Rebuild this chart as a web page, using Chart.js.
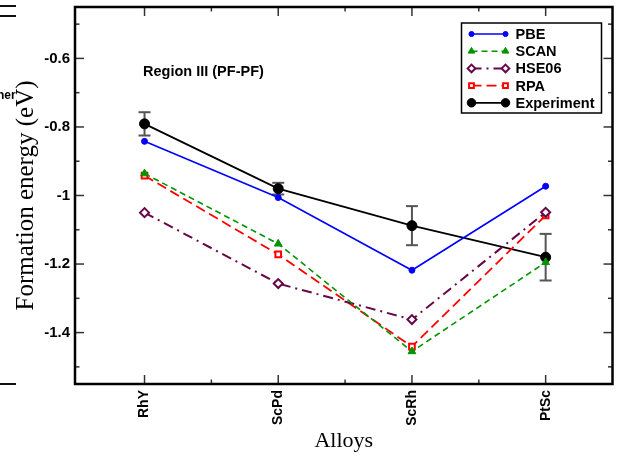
<!DOCTYPE html>
<html>
<head>
<meta charset="utf-8">
<script src="https://cdn.jsdelivr.net/npm/chart.js@4/dist/chart.umd.min.js"></script>
<style>
    html, body { margin: 0; padding: 0; background: #fff; }
    #wrap { width: 619px; height: 456px; }
</style>
</head>
<body>
<div id="wrap"><canvas id="chart" width="619" height="456"></canvas></div>
<script>
const alloys = ['RhY', 'ScPd', 'ScRh', 'PtSc'];
const pbe = [-0.842, -1.006, -1.218, -0.973];
const scan = [-0.936, -1.141, -1.455, -1.195];
const hse06 = [-1.05, -1.257, -1.362, -1.049];
const rpa = [-0.942, -1.172, -1.441, -1.058];
const experiment = [-0.791, -0.980, -1.088, -1.180];
const experimentErr = [0.034, 0.017, 0.057, 0.068];
const yMajorTicks = [-1.4, -1.2, -1.0, -0.8, -0.6];
const yMinorTicks = [-1.5, -1.3, -1.1, -0.9, -0.7, -0.5];
const xMinorTicks = [0.5, 1.5, 2.5];

const SANS = '"Liberation Sans", Arial, Helvetica, sans-serif';
const SERIF = '"Liberation Serif", "Times New Roman", serif';

const toPoints = arr => arr.map((v, i) => ({ x: i, y: v }));

const datasets = [
    { label: 'PBE', data: toPoints(pbe), borderColor: '#0000ff', backgroundColor: '#0000ff',
      borderWidth: 1.6, pointStyle: 'circle', pointRadius: 3, pointBorderWidth: 1 },
    { label: 'SCAN', data: toPoints(scan), borderColor: '#009400', backgroundColor: '#009400',
      borderWidth: 1.6, borderDash: [6, 4], pointStyle: 'triangle', pointRadius: 4.5, pointBorderWidth: 1 },
    { label: 'HSE06', data: toPoints(hse06), borderColor: '#670748', backgroundColor: '#ffffff',
      borderWidth: 2, borderDash: [10, 5, 2, 5], pointStyle: 'rectRot', pointRadius: 4.5, pointBorderWidth: 2 },
    { label: 'RPA', data: toPoints(rpa), borderColor: '#ff0000', backgroundColor: '#ffffff',
      borderWidth: 1.8, borderDash: [10, 5], pointStyle: 'rect', pointRadius: 4, pointBorderWidth: 2 },
    { label: 'Experiment', data: toPoints(experiment), borderColor: '#000000', backgroundColor: '#000000',
      borderWidth: 1.8, pointStyle: 'circle', pointRadius: 5, pointBorderWidth: 1 }
];
datasets.forEach(d => {
    d.pointBackgroundColor = d.backgroundColor;
    d.pointBorderColor = d.borderColor;
    d.tension = 0;
    d.fill = false;
});

function line(ctx, x1, y1, x2, y2) {
    ctx.beginPath();
    ctx.moveTo(x1, y1);
    ctx.lineTo(x2, y2);
    ctx.stroke();
}

const decorPlugin = {
    id: 'decor',
    beforeDatasetsDraw(chart) {
        // error bars of the experimental points
        const ctx = chart.ctx;
        const xs = chart.scales.x, ys = chart.scales.y;
        ctx.save();
        ctx.strokeStyle = '#555';
        ctx.lineWidth = 2;
        experiment.forEach((v, i) => {
            const px = xs.getPixelForValue(i);
            const hi = ys.getPixelForValue(v + experimentErr[i]);
            const lo = ys.getPixelForValue(v - experimentErr[i]);
            line(ctx, px, hi, px, lo);
            line(ctx, px - 6, hi, px + 6, hi);
            line(ctx, px - 6, lo, px + 6, lo);
        });
        ctx.restore();
    },
    afterDraw(chart) {
        const ctx = chart.ctx;
        const { left, right, top, bottom } = chart.chartArea;
        const xs = chart.scales.x, ys = chart.scales.y;
        ctx.save();

        // tick marks on all four sides
        ctx.strokeStyle = '#333';
        ctx.lineWidth = 1.5;
        alloys.forEach((_, i) => {
            const px = xs.getPixelForValue(i);
            line(ctx, px, bottom, px, bottom - 9);
            line(ctx, px, top, px, top + 9);
        });
        xMinorTicks.forEach(v => {
            const px = xs.getPixelForValue(v);
            line(ctx, px, bottom, px, bottom - 4.5);
            line(ctx, px, top, px, top + 4.5);
        });
        yMajorTicks.forEach(v => {
            const py = ys.getPixelForValue(v);
            line(ctx, left, py, left + 9, py);
            line(ctx, right, py, right - 9, py);
        });
        yMinorTicks.forEach(v => {
            const py = ys.getPixelForValue(v);
            line(ctx, left, py, left + 4.5, py);
            line(ctx, right, py, right - 4.5, py);
        });

        // frame
        ctx.strokeStyle = '#000';
        ctx.lineWidth = 2.5;
        ctx.strokeRect(left, top, right - left, bottom - top);

        // label inside the plot
        ctx.fillStyle = '#000';
        ctx.font = 'bold 14.5px ' + SANS;
        ctx.textAlign = 'left';
        ctx.textBaseline = 'middle';
        ctx.fillText('Region III (PF-PF)', left + 68, top + 65);

        // legend box
        const bx = right - 151, by = top + 16, bw = 140, bh = 90;
        ctx.fillStyle = '#fff';
        ctx.fillRect(bx, by, bw, bh);
        ctx.strokeStyle = '#000';
        ctx.lineWidth = 1.5;
        ctx.strokeRect(bx, by, bw, bh);
        chart.data.datasets.forEach((d, i) => {
            const ry = by + 11 + i * 17.2;
            const x1 = bx + 10, x2 = bx + 44;
            ctx.save();
            ctx.strokeStyle = d.borderColor;
            ctx.lineWidth = d.borderWidth;
            ctx.setLineDash(d.borderDash || []);
            line(ctx, x1, ry, x2, ry);
            ctx.restore();
            [x1, x2].forEach(px => {
                ctx.save();
                ctx.fillStyle = d.pointBackgroundColor;
                ctx.strokeStyle = d.pointBorderColor;
                ctx.lineWidth = d.pointBorderWidth;
                Chart.helpers.drawPoint(ctx, {
                    pointStyle: d.pointStyle, radius: d.pointRadius * 0.85,
                    rotation: 0, borderWidth: d.pointBorderWidth
                }, px, ry);
                ctx.restore();
            });
            ctx.fillStyle = '#000';
            ctx.font = 'bold 14.5px ' + SANS;
            ctx.textBaseline = 'middle';
            ctx.fillText(d.label, bx + 54, ry + 1);
        });

        // leftovers of the neighbouring panel at the left edge
        ctx.strokeStyle = '#111';
        ctx.lineWidth = 2;
        line(ctx, 0, 6, 16, 6);
        line(ctx, 0, 16, 16, 16);
        line(ctx, 0, 384, 16, 384);
        ctx.fillStyle = '#000';
        ctx.font = 'bold 12px ' + SANS;
        ctx.fillText('her', -3, 96);

        ctx.restore();
    }
};

new Chart(document.getElementById('chart'), {
    type: 'line',
    data: { datasets },
    options: {
        responsive: false,
        animation: false,
        devicePixelRatio: 1,
        layout: { padding: { left: 0, top: 7, right: 5, bottom: 0 } },
        plugins: { legend: { display: false }, tooltip: { enabled: false } },
        scales: {
            x: {
                type: 'linear',
                min: -0.52,
                max: 3.5,
                afterBuildTicks: s => { s.ticks = alloys.map((_, i) => ({ value: i })); },
                afterFit: s => { s.height = 72; s.paddingLeft = 0; s.paddingRight = 0; },
                grid: { display: false, drawTicks: false },
                border: { display: false },
                ticks: {
                    autoSkip: false,
                    minRotation: 90,
                    maxRotation: 90,
                    padding: 6,
                    color: '#000',
                    font: { family: SANS, size: 14, weight: 'bold' },
                    callback: v => alloys[v]
                },
                title: {
                    display: true,
                    text: 'Alloys',
                    color: '#000',
                    font: { family: SERIF, size: 22 },
                    padding: { top: 0, bottom: 2 }
                }
            },
            y: {
                min: -1.55,
                max: -0.45,
                afterBuildTicks: s => { s.ticks = yMajorTicks.map(v => ({ value: v })); },
                afterFit: s => { s.width = 75; s.paddingTop = 0; s.paddingBottom = 0; },
                grid: { display: false, drawTicks: false },
                border: { display: false },
                ticks: {
                    padding: 5,
                    color: '#000',
                    font: { family: SANS, size: 15, weight: 'bold' },
                    callback: v => String(+v.toFixed(1))
                },
                title: {
                    display: true,
                    text: 'Formation energy (eV)',
                    color: '#000',
                    font: { family: SERIF, size: 25 },
                    padding: { top: 11, bottom: 0 }
                }
            }
        }
    },
    plugins: [decorPlugin]
});
</script>
</body>
</html>
